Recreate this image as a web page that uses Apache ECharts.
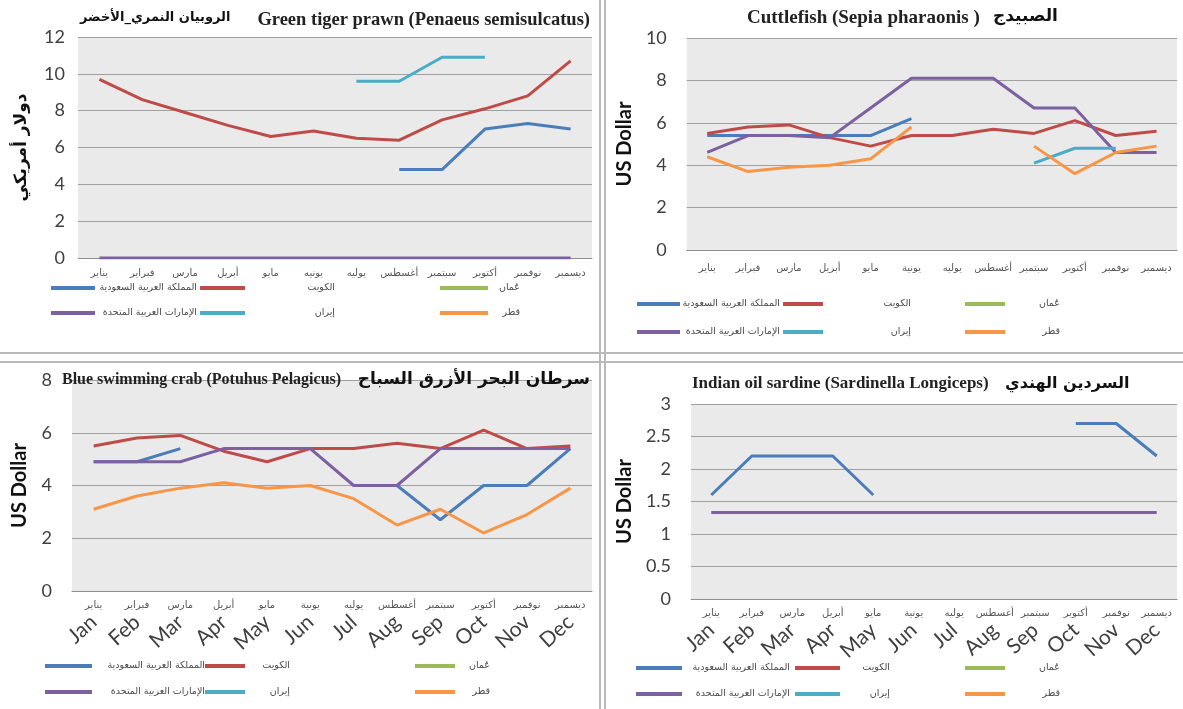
<!DOCTYPE html>
<html>
<head>
<meta charset="utf-8">
<script src="https://cdn.jsdelivr.net/npm/echarts/dist/echarts.min.js"></script>
<style>
  html, body { margin: 0; padding: 0; background: #fff; }
  #page { position: relative; width: 1183px; height: 709px; overflow: hidden; background: #fff; }
  .panel { position: absolute; }
  .rule { position: absolute; background: #b9b9b9; }
</style>
</head>
<body>
<div id="page">
  <div id="p1" class="panel" style="left:0;top:0;width:598px;height:351px"></div>
  <div id="p2" class="panel" style="left:607px;top:0;width:576px;height:351px"></div>
  <div id="p3" class="panel" style="left:0;top:364px;width:598px;height:345px"></div>
  <div id="p4" class="panel" style="left:607px;top:364px;width:576px;height:345px"></div>
  <div class="rule" style="left:599px;top:0;width:2px;height:709px"></div>
  <div class="rule" style="left:604px;top:0;width:2px;height:709px"></div>
  <div class="rule" style="left:0;top:352px;width:1183px;height:2px"></div>
  <div class="rule" style="left:0;top:361px;width:1183px;height:2px"></div>
</div>
<script>
const monthsArPrawn = ['يناير', 'فبراير', 'مارس', 'أبريل', 'مايو', 'يونيه', 'يوليه', 'أغسطس', 'سبتمبر', 'أكتوبر', 'نوفمبر', 'ديسمبر']
const monthsAr = ['يناير', 'فبراير', 'مارس', 'أبريل', 'مايو', 'يونية', 'يوليه', 'أغسطس', 'سبتمبر', 'أكتوبر', 'نوفمبر', 'ديسمبر']
const monthsEn = ['Jan', 'Feb', 'Mar', 'Apr', 'May', 'Jun', 'Jul', 'Aug', 'Sep', 'Oct', 'Nov', 'Dec']

// series order: Saudi, Kuwait, Oman, UAE, Iran, Qatar
const countries = ['المملكة العربية السعودية', 'الكويت', 'عُمان', 'الإمارات العربية المتحدة', 'إيران', 'قطر']
const colors = ['#4A7DBA', '#BE4B48', '#9BBB59', '#7D60A0', '#4BACC6', '#F79646']

// Green tiger prawn
const prawnTicks = [0, 2, 4, 6, 8, 10, 12]
const prawnSaudi = [null, null, null, null, null, null, null, 4.8, 4.8, 7.0, 7.3, 7.0]
const prawnKuwait = [9.7, 8.6, 7.9, 7.2, 6.6, 6.9, 6.5, 6.4, 7.5, 8.1, 8.8, 10.7]
const prawnOman = [null, null, null, null, null, null, null, null, null, null, null, null]
const prawnUae = [0, 0, 0, 0, 0, 0, 0, 0, 0, 0, 0, 0]
const prawnIran = [null, null, null, null, null, null, 9.6, 9.6, 10.9, 10.9, null, null]
const prawnQatar = [null, null, null, null, null, null, null, null, null, null, null, null]

// Cuttlefish
const cuttleTicks = [0, 2, 4, 6, 8, 10]
const cuttleSaudi = [5.4, 5.4, 5.4, 5.4, 5.4, 6.2, null, null, null, null, null, null]
const cuttleKuwait = [5.5, 5.8, 5.9, 5.3, 4.9, 5.4, 5.4, 5.7, 5.5, 6.1, 5.4, 5.6]
const cuttleOman = [null, null, null, null, null, null, null, null, null, null, null, null]
const cuttleUae = [4.6, 5.4, 5.4, 5.3, 6.7, 8.1, 8.1, 8.1, 6.7, 6.7, 4.6, 4.6]
const cuttleIran = [null, null, null, null, null, null, null, null, 4.1, 4.8, 4.8, null]
const cuttleQatar = [4.4, 3.7, 3.9, 4.0, 4.3, 5.8, null, null, 4.9, 3.6, 4.6, 4.9]

// Blue swimming crab
const crabTicks = [0, 2, 4, 6, 8]
const crabSaudi = [4.9, 4.9, 5.4, null, null, null, 4.0, 4.0, 2.7, 4.0, 4.0, 5.4]
const crabKuwait = [5.5, 5.8, 5.9, 5.3, 4.9, 5.4, 5.4, 5.6, 5.4, 6.1, 5.4, 5.5]
const crabOman = [null, null, null, null, null, null, null, null, null, null, null, null]
const crabUae = [4.9, 4.9, 4.9, 5.4, 5.4, 5.4, 4.0, 4.0, 5.4, 5.4, 5.4, 5.4]
const crabIran = [null, null, null, null, null, null, null, null, null, null, null, null]
const crabQatar = [3.1, 3.6, 3.9, 4.1, 3.9, 4.0, 3.5, 2.5, 3.1, 2.2, 2.9, 3.9]

// Indian oil sardine
const sardineTicks = [0, 0.5, 1, 1.5, 2, 2.5, 3]
const sardineSaudi = [1.6, 2.2, 2.2, 2.2, 1.6, null, null, null, null, 2.7, 2.7, 2.2]
const sardineKuwait = [null, null, null, null, null, null, null, null, null, null, null, null]
const sardineOman = [null, null, null, null, null, null, null, null, null, null, null, null]
const sardineUae = [1.33, 1.33, 1.33, 1.33, 1.33, 1.33, 1.33, 1.33, 1.33, 1.33, 1.33, 1.33]
const sardineIran = [null, null, null, null, null, null, null, null, null, null, null, null]
const sardineQatar = [null, null, null, null, null, null, null, null, null, null, null, null]

const arTitle = (size) => ({ fontFamily: 'DejaVu Sans', fontWeight: 'bold', fontSize: size, color: '#111' })
const enTitle = (size) => ({ fontFamily: 'Liberation Serif', fontWeight: 'bold', fontSize: size, color: '#222' })
const usDollar = { fontFamily: 'Lato', fontWeight: 'bold', fontSize: 20, color: '#111' }

const buildOption = (cfg) => {
  const ticks = cfg.ticks
  const xAxis = [
    {
      type: 'category',
      data: cfg.monthsAr,
      boundaryGap: true,
      axisLine: { lineStyle: { color: '#8f8f8f', width: 1 } },
      axisTick: { show: false },
      axisLabel: {
        interval: 0,
        color: '#555',
        fontSize: 10,
        fontFamily: 'DejaVu Sans',
        margin: cfg.arMargin,
      },
    },
  ]
  if (cfg.rotated) {
    xAxis.push({
      type: 'category',
      data: monthsEn,
      position: 'bottom',
      offset: cfg.enOffset,
      axisLine: { show: false },
      axisTick: { show: false },
      splitLine: { show: false },
      axisLabel: {
        interval: 0,
        rotate: 42,
        color: '#404040',
        fontSize: 21,
        fontFamily: 'Lato',
        margin: 0,
      },
    })
  }

  const legend = cfg.legend.map((col) => ({
    data: col.items.map((i) => countries[i]),
    orient: 'vertical',
    left: col.left,
    top: cfg.legendTop,
    padding: 0,
    itemGap: cfg.legendGap,
    itemWidth: col.iw,
    itemHeight: 4,
    icon: 'rect',
    selectedMode: false,
    formatter: '{r|{name}}',
    textStyle: {
      rich: {
        r: { width: col.w, align: 'right', fontSize: 9.5, fontFamily: 'DejaVu Sans', color: '#4a4a4a' },
      },
    },
  }))

  return {
    animation: false,
    backgroundColor: '#fff',
    title: cfg.titles.map((t) => ({
      text: t.text,
      left: t.left,
      right: t.right,
      top: t.top,
      padding: 0,
      textStyle: t.style,
    })),
    legend,
    grid: {
      left: cfg.grid[0],
      top: cfg.grid[1],
      width: cfg.grid[2],
      height: cfg.grid[3],
      show: true,
      backgroundColor: '#eaeaea',
      borderWidth: 0,
    },
    xAxis,
    yAxis: {
      type: 'value',
      min: ticks[0],
      max: ticks[ticks.length - 1],
      interval: ticks[1] - ticks[0],
      axisLine: { show: false },
      axisTick: { show: false },
      splitLine: { lineStyle: { color: '#a0a0a0', width: 1 } },
      axisLabel: { fontSize: 18, color: '#404040', fontFamily: 'Lato', margin: cfg.yMargin },
      name: cfg.yName,
      nameLocation: 'middle',
      nameGap: cfg.yNameGap,
      nameTextStyle: cfg.yNameStyle,
    },
    series: cfg.values.map((vals, i) => ({
      name: countries[i],
      type: 'line',
      data: vals,
      symbol: 'none',
      showSymbol: false,
      connectNulls: false,
      lineStyle: { width: 3, color: colors[i] },
      itemStyle: { color: colors[i] },
    })),
  }
}

const panels = [
  {
    el: 'p1',
    monthsAr: monthsArPrawn,
    ticks: prawnTicks,
    values: [prawnSaudi, prawnKuwait, prawnOman, prawnUae, prawnIran, prawnQatar],
    grid: [78, 37, 514, 221],
    yMargin: 13,
    yName: 'دولار أمريكي',
    yNameGap: 48,
    yNameStyle: { fontFamily: 'DejaVu Sans', fontWeight: 'bold', fontSize: 17, color: '#111' },
    titles: [
      { text: 'الروبيان النمري_الأخضر', left: 80, top: 11, style: arTitle(13) },
      { text: 'Green tiger prawn (Penaeus semisulcatus)', right: 8, top: 11, style: enTitle(18.5) },
    ],
    arMargin: 10,
    legendTop: 283,
    legendGap: 15,
    legend: [
      { items: [0, 3], left: 51, iw: 44, w: 97 },
      { items: [1, 4], left: 200, iw: 45, w: 85 },
      { items: [2, 5], left: 440, iw: 48, w: 27 },
    ],
  },
  {
    el: 'p2',
    monthsAr: monthsAr,
    ticks: cuttleTicks,
    values: [cuttleSaudi, cuttleKuwait, cuttleOman, cuttleUae, cuttleIran, cuttleQatar],
    grid: [58, 38, 512, 212],
    yMargin: 20,
    yName: 'US Dollar',
    yNameGap: 37,
    yNameStyle: usDollar,
    titles: [
      { text: 'Cuttlefish (Sepia pharaonis )', left: 140, top: 9, style: enTitle(19) },
      { text: 'الصبيدج', left: 386, top: 8, style: arTitle(17) },
    ],
    arMargin: 13,
    legendTop: 299,
    legendGap: 18,
    legend: [
      { items: [0, 3], left: 30, iw: 43, w: 95 },
      { items: [1, 4], left: 176, iw: 40, w: 83 },
      { items: [2, 5], left: 358, iw: 40, w: 50 },
    ],
  },
  {
    el: 'p3',
    monthsAr: monthsAr,
    ticks: crabTicks,
    values: [crabSaudi, crabKuwait, crabOman, crabUae, crabIran, crabQatar],
    grid: [72, 16, 520, 211],
    yMargin: 20,
    yName: 'US Dollar',
    yNameGap: 42,
    yNameStyle: usDollar,
    titles: [
      { text: 'Blue swimming crab (Potuhus Pelagicus)', left: 62, top: 8, style: enTitle(16) },
      { text: 'سرطان البحر الأزرق السباح', right: 8, top: 7, style: arTitle(17) },
    ],
    arMargin: 9,
    rotated: true,
    enOffset: 28,
    legendTop: 297,
    legendGap: 16,
    legend: [
      { items: [0, 3], left: 45, iw: 47, w: 108 },
      { items: [1, 4], left: 205, iw: 40, w: 40 },
      { items: [2, 5], left: 415, iw: 40, w: 30 },
    ],
  },
  {
    el: 'p4',
    monthsAr: monthsAr,
    ticks: sardineTicks,
    values: [sardineSaudi, sardineKuwait, sardineOman, sardineUae, sardineIran, sardineQatar],
    grid: [56, 40, 514, 195],
    yMargin: 20,
    yName: 'US Dollar',
    yNameGap: 32,
    yNameStyle: usDollar,
    titles: [
      { text: 'Indian oil sardine (Sardinella Longiceps)', left: 85, top: 11, style: enTitle(17) },
      { text: 'السردين الهندي', left: 398, top: 12, style: arTitle(16) },
    ],
    arMargin: 9,
    rotated: true,
    enOffset: 28,
    legendTop: 299,
    legendGap: 16,
    legend: [
      { items: [0, 3], left: 29, iw: 46, w: 103 },
      { items: [1, 4], left: 188, iw: 45, w: 45 },
      { items: [2, 5], left: 358, iw: 40, w: 50 },
    ],
  },
]

panels.forEach((cfg) => {
  const chart = echarts.init(document.getElementById(cfg.el))
  chart.setOption(buildOption(cfg))
})
</script>
</body>
</html>
